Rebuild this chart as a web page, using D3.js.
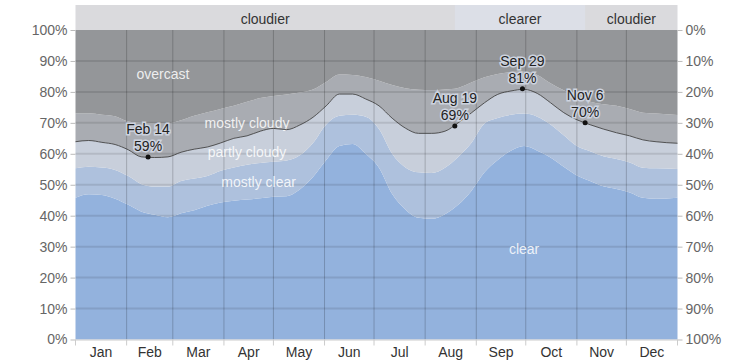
<!DOCTYPE html>
<html>
<head>
<meta charset="utf-8">
<script src="https://cdn.jsdelivr.net/npm/d3@7"></script>
<style>
  body { margin: 0; background: #fff; }
  svg { font-family: "Liberation Sans", Arial, sans-serif; display: block; }
</style>
</head>
<body>
<svg></svg>
<script>
var width = 753,
    height = 362

// day of year for each sample
var days = [0, 8, 16, 24, 32, 40, 48, 56, 64, 72, 80, 88, 96, 104, 112, 120, 128, 136, 144, 152,
    160, 168, 176, 184, 192, 200, 208, 216, 224, 232, 240, 248, 256, 264, 272, 280, 288, 296,
    304, 312, 320, 328, 336, 344, 352, 365];

// cumulative percentages (top edge of each band)
var clearTop = [45.8, 46.9, 46.7, 45.5, 43.5, 41.3, 40.3, 39.5, 40.8, 41.8, 43.2, 44.3, 44.8, 45.2,
    45.6, 46.1, 46.3, 48.5, 52.5, 58, 62.5, 63.2, 60, 55.5, 47, 42, 39.3, 39, 40.5, 43.5, 48, 54,
    58, 61, 62.5, 61, 58.8, 55.8, 53, 51.2, 49.5, 48.6, 47.5, 45.8, 45.5, 45.8];
var mostlyClearTop = [55.3, 55.8, 55.6, 54.8, 52.8, 50.2, 49.4, 49.4, 51.2, 52, 52.8, 54.5, 55.6,
    56.5, 57, 57.4, 57.8, 59.5, 63.5, 69.5, 72.3, 72.6, 72, 68, 60, 55.6, 54, 53.8, 55.5, 59, 63.5,
    69.8, 71.6, 72.6, 73, 72, 69.5, 66, 62.5, 60.8, 59.2, 58.3, 57.2, 55.5, 55.3, 55.1];
var partlyCloudyTop = [63.9, 64.3, 63.7, 63, 61.3, 59, 58.8, 59, 60.5, 61.5, 62.2, 63.5, 65, 65.8,
    67.3, 68.2, 67.8, 69.3, 71.8, 75.5, 79.3, 79.3, 77.7, 75.5, 71.5, 68.3, 66.6, 66.6, 67.3, 70,
    73.2, 76.5, 79.2, 80.3, 80.8, 79.5, 76.5, 73.3, 71, 69.4, 68, 66.8, 65.8, 64.5, 63.9, 63.4];
var mostlyCloudyTop = [73.1, 73.1, 72.6, 72.1, 70.4, 70, 69.8, 69.8, 70.8, 72.3, 73.4, 74.5, 75.5,
    76.8, 78, 78.7, 79.2, 79.8, 80.8, 83.2, 85.6, 85.5, 84.8, 83.6, 82.2, 81.2, 80.7, 80.6, 80.8,
    81.3, 83, 84.7, 85.8, 86.4, 86.5, 85.5, 82.8, 80.5, 78.5, 76.8, 76, 75.5, 74.5, 73.3, 73, 72.5];

var months = ["Jan", "Feb", "Mar", "Apr", "May", "Jun", "Jul", "Aug", "Sep", "Oct", "Nov", "Dec"];
var monthStarts = [0, 31, 59, 90, 120, 151, 181, 212, 243, 273, 304, 334, 365];
var yTicks = [0, 10, 20, 30, 40, 50, 60, 70, 80, 90, 100];

// labelled points on the line
var markDays = [44, 230, 271, 309];
var markNames = ["Feb 14", "Aug 19", "Sep 29", "Nov 6"];
var markValues = [59, 69, 81, 70];

// clearer part of the year
var clearerStart = 230,
    clearerEnd = 309;

var bandNames = ["overcast", "mostly cloudy", "partly cloudy", "mostly clear", "clear"];
var bandLabelDays = [53, 104, 104, 111, 272];
var bandLabelPcts = [85.7, 70, 60.5, 50.7, 29.2];

var colors = {
    "clear": "#93b2dd",
    "mostly clear": "#aec1dd",
    "partly cloudy": "#c8cfdb",
    "mostly cloudy": "#a9acb2",
    "overcast": "#949699"
};

var svg = d3.select("svg")
    .attr("width", width)
    .attr("height", height);

var x = d3.scaleLinear().domain([0, 365]).range([75.5, 677.5]);
var y = d3.scaleLinear().domain([0, 100]).range([339.5, 30]);

var rows = days.map(function (d, i) {
    return {
        day: d,
        bands: [0, clearTop[i], mostlyClearTop[i], partlyCloudyTop[i], mostlyCloudyTop[i], 100]
    };
});

// top header band
svg.append("rect")
    .attr("x", x(0)).attr("y", 5)
    .attr("width", x(365) - x(0)).attr("height", y(100) - 5)
    .attr("fill", "#dadadd");
svg.append("rect")
    .attr("x", x(clearerStart)).attr("y", 5)
    .attr("width", x(clearerEnd) - x(clearerStart)).attr("height", y(100) - 5)
    .attr("fill", "#dcdfe7");

var header = [
    { name: "cloudier", a: 0, b: clearerStart },
    { name: "clearer", a: clearerStart, b: clearerEnd },
    { name: "cloudier", a: clearerEnd, b: 365 }
];
svg.selectAll(".hdr")
    .data(header)
    .enter().append("text")
    .attr("x", function (d) { return (x(d.a) + x(d.b)) / 2; })
    .attr("y", 24)
    .attr("text-anchor", "middle")
    .attr("font-size", 14)
    .attr("fill", "#333")
    .text(function (d) { return d.name; });

// stacked bands, bottom (clear) to top (overcast)
var bandOrder = ["clear", "mostly clear", "partly cloudy", "mostly cloudy", "overcast"];
bandOrder.forEach(function (name, k) {
    var area = d3.area()
        .x(function (d) { return x(d.day); })
        .y0(function (d) { return y(d.bands[k]); })
        .y1(function (d) { return y(d.bands[k + 1]); })
        .curve(d3.curveMonotoneX);
    svg.append("path")
        .datum(rows)
        .attr("d", area)
        .attr("fill", colors[name]);
});

// grid
svg.append("g")
    .selectAll("line")
    .data(yTicks.slice(1, -1))
    .enter().append("line")
    .attr("x1", x(0)).attr("x2", x(365))
    .attr("y1", y).attr("y2", y)
    .attr("stroke", "#000")
    .attr("stroke-opacity", 0.1)
    .attr("stroke-width", 2);

svg.append("g")
    .selectAll("line")
    .data(monthStarts.slice(1, -1))
    .enter().append("line")
    .attr("x1", x).attr("x2", x)
    .attr("y1", y(100)).attr("y2", y(0))
    .attr("stroke", "#000")
    .attr("stroke-opacity", 0.2)
    .attr("stroke-width", 1);

// band labels
svg.selectAll(".bandLabel")
    .data(bandNames)
    .enter().append("text")
    .attr("x", function (d, i) { return x(bandLabelDays[i]); })
    .attr("y", function (d, i) { return y(bandLabelPcts[i]); })
    .attr("dy", "0.35em")
    .attr("text-anchor", "middle")
    .attr("font-size", 14)
    .attr("fill", "#fff")
    .attr("fill-opacity", 0.85)
    .text(function (d) { return d; });

// the clear + mostly clear + partly cloudy line
var line = d3.line()
    .x(function (d) { return x(d.day); })
    .y(function (d) { return y(d.bands[3]); })
    .curve(d3.curveMonotoneX);
svg.append("path")
    .datum(rows)
    .attr("d", line)
    .attr("fill", "none")
    .attr("stroke", "#333")
    .attr("stroke-opacity", 0.8)
    .attr("stroke-width", 1);

// left axis
var leftAxis = svg.append("g")
    .attr("transform", "translate(" + x(0) + ",0)")
    .call(d3.axisLeft(y).tickValues(yTicks).tickSize(5).tickFormat(function (d) { return d + "%"; }));
// right axis, reversed labels
var rightAxis = svg.append("g")
    .attr("transform", "translate(" + x(365) + ",0)")
    .call(d3.axisRight(y).tickValues(yTicks).tickSize(5).tickFormat(function (d) { return (100 - d) + "%"; }));
[leftAxis, rightAxis].forEach(function (g) {
    g.select(".domain").remove();
    g.selectAll("line").attr("stroke", "#bbb");
    g.selectAll("text")
        .attr("font-size", 14)
        .attr("font-family", "Liberation Sans, Arial, sans-serif")
        .attr("fill", "#666");
});

// bottom month axis
svg.append("line")
    .attr("x1", x(0)).attr("x2", x(365))
    .attr("y1", y(0) + 0.5).attr("y2", y(0) + 0.5)
    .attr("stroke", "#ccc");
svg.append("g")
    .selectAll("line")
    .data(monthStarts)
    .enter().append("line")
    .attr("x1", x).attr("x2", x)
    .attr("y1", y(0)).attr("y2", y(0) + 6)
    .attr("stroke", "#ccc");
svg.append("g")
    .selectAll("text")
    .data(months)
    .enter().append("text")
    .attr("x", function (d, i) { return x((monthStarts[i] + monthStarts[i + 1]) / 2); })
    .attr("y", 357)
    .attr("text-anchor", "middle")
    .attr("font-size", 14)
    .attr("fill", "#333")
    .text(function (d) { return d; });

// marked points
var marks = svg.append("g")
    .selectAll("g")
    .data(markDays)
    .enter().append("g")
    .attr("transform", function (d, i) { return "translate(" + x(d) + "," + y(markValues[i]) + ")"; });
marks.append("circle")
    .attr("r", 2.5)
    .attr("fill", "#111");
marks.append("text")
    .attr("y", -23)
    .attr("text-anchor", "middle")
    .attr("font-size", 14)
    .attr("fill", "#222")
    .attr("stroke", "#cdd3df")
    .attr("stroke-width", 3)
    .attr("paint-order", "stroke")
    .text(function (d, i) { return markNames[i]; });
marks.append("text")
    .attr("y", -6)
    .attr("text-anchor", "middle")
    .attr("font-size", 14)
    .attr("fill", "#222")
    .attr("stroke", "#cdd3df")
    .attr("stroke-width", 3)
    .attr("paint-order", "stroke")
    .text(function (d, i) { return markValues[i] + "%"; });
</script>
</body>
</html>
